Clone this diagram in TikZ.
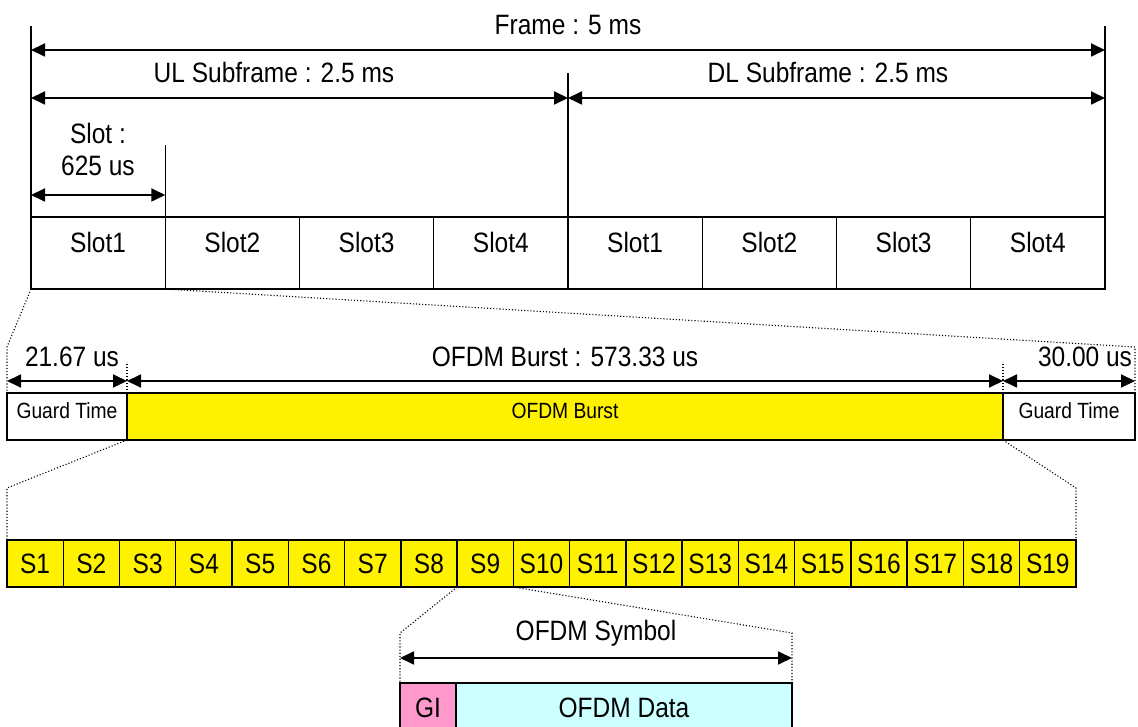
\documentclass[tikz,border=0pt]{standalone}
\usepackage{fontspec}
\setmainfont{Liberation Sans}[FakeStretch=0.875]
\usetikzlibrary{positioning,arrows.meta}
\definecolor{gipink}{HTML}{FF99CC}
\definecolor{datacyan}{HTML}{CCFFFF}

\begin{document}
\begin{tikzpicture}[
  x=1pt, y=1pt,
  font=\fontsize{28}{32}\selectfont,
  cell/.style={draw, line width=1.4pt, inner sep=0pt, outer sep=0pt, anchor=south west},
  small/.style={font=\fontsize{22}{24}\selectfont},
  dim/.style={{Triangle[length=14pt,width=13pt]}-{Triangle[length=14pt,width=13pt]}, line width=1.8pt},
  tick/.style={line width=1.2pt},
  zoomline/.style={dotted, line width=1.1pt}
]
\useasboundingbox (0,0) rectangle (1138,726);

% frame: UL and DL slots
\foreach \i in {1,...,8} {
  \pgfmathtruncatemacro{\num}{mod(\i-1,4)+1}
  \node[cell, minimum width=134.25pt, minimum height=72pt,
    label={[yshift=11pt]center:Slot\num}] (slot\i) at ({31+134.25*(\i-1)},437) {};
}
\draw[tick] (slot1.north west) -- (slot1.north west |- 0,700);
\draw[tick] (slot8.north east) -- (slot8.north east |- 0,700);
\draw[tick] (slot4.north east) -- (slot4.north east |- 0,653);
\draw[tick] (slot1.north east) -- (slot1.north east |- 0,581);
\draw[dim] (slot1.north west |- 0,676) -- (slot8.north east |- 0,676);
\draw[dim] (slot1.north west |- 0,628) -- (slot4.north east |- 0,628);
\draw[dim] (slot4.north east |- 0,628) -- (slot8.north east |- 0,628);
\draw[dim] (slot1.north west |- 0,531) -- (slot1.north east |- 0,531);
\node (frametxt) at (568,701) {Frame : 5 ms};
\node (ultxt) at (274,654) {UL Subframe : 2.5 ms};
\node (dltxt) at (828,654) {DL Subframe : 2.5 ms};
\node[align=center] (slottxt) at (98,577) {Slot :\\625 us};

% slot: guard times and burst
\node[cell, minimum width=120pt, minimum height=47pt,
  label={[small, yshift=6pt]center:Guard Time}] (guardL) at (7,286) {};
\node[cell, fill=yellow, minimum width=876pt, minimum height=47pt,
  label={[small, yshift=6pt]center:OFDM Burst}] (burst) at (127,286) {};
\node[cell, minimum width=132pt, minimum height=47pt,
  label={[small, yshift=6pt]center:Guard Time}] (guardR) at (1003,286) {};
\coordinate (zoomL1) at (7,379);
\coordinate (zoomR1) at (1135,379);
\draw[zoomline] (slot1.south west) -- (zoomL1) -- (guardL.north west);
\draw[zoomline] (slot1.south east) -- (zoomR1) -- (guardR.north east);
\draw[zoomline] (burst.north west) -- ++(0,31);
\draw[zoomline] (burst.north east) -- ++(0,31);
\draw[dim] (guardL.north west |- 0,345) -- (burst.north west |- 0,345);
\draw[dim] (burst.north west |- 0,345) -- (burst.north east |- 0,345);
\draw[dim] (burst.north east |- 0,345) -- (guardR.north east |- 0,345);
\node (guardtxtL) at (72,369) {21.67 us};
\node (bursttxt) at (565,369) {OFDM Burst : 573.33 us};
\node (guardtxtR) at (1085,369) {30.00 us};

% burst: symbols
\foreach \i in {1,...,19}
  \node[cell, fill=yellow, minimum width=56.26pt, minimum height=47pt] (sym\i) at ({7+56.26*(\i-1)},139) {S\i};
\coordinate (zoomL2) at (7,238);
\coordinate (zoomR2) at (1076,238);
\draw[zoomline] (burst.south west) -- (zoomL2) -- (sym1.north west);
\draw[zoomline] (burst.south east) -- (zoomR2) -- (sym19.north east);

% symbol: GI and data
\node[cell, fill=gipink, minimum width=56pt, minimum height=50pt] (gi) at (400,-7) {GI};
\node[cell, fill=datacyan, minimum width=336pt, minimum height=50pt, right=0pt of gi] (data) {OFDM Data};
\coordinate (zoomL3) at (400,93);
\coordinate (zoomR3) at (792,93);
\draw[zoomline] (sym9.south west) -- (zoomL3) -- (gi.north west);
\draw[zoomline] (sym9.south east) -- (zoomR3) -- (data.north east);
\draw[dim] (gi.north west |- 0,68) -- (data.north east |- 0,68);
\node (symtxt) at (596,93) {OFDM Symbol};
\end{tikzpicture}
\end{document}
